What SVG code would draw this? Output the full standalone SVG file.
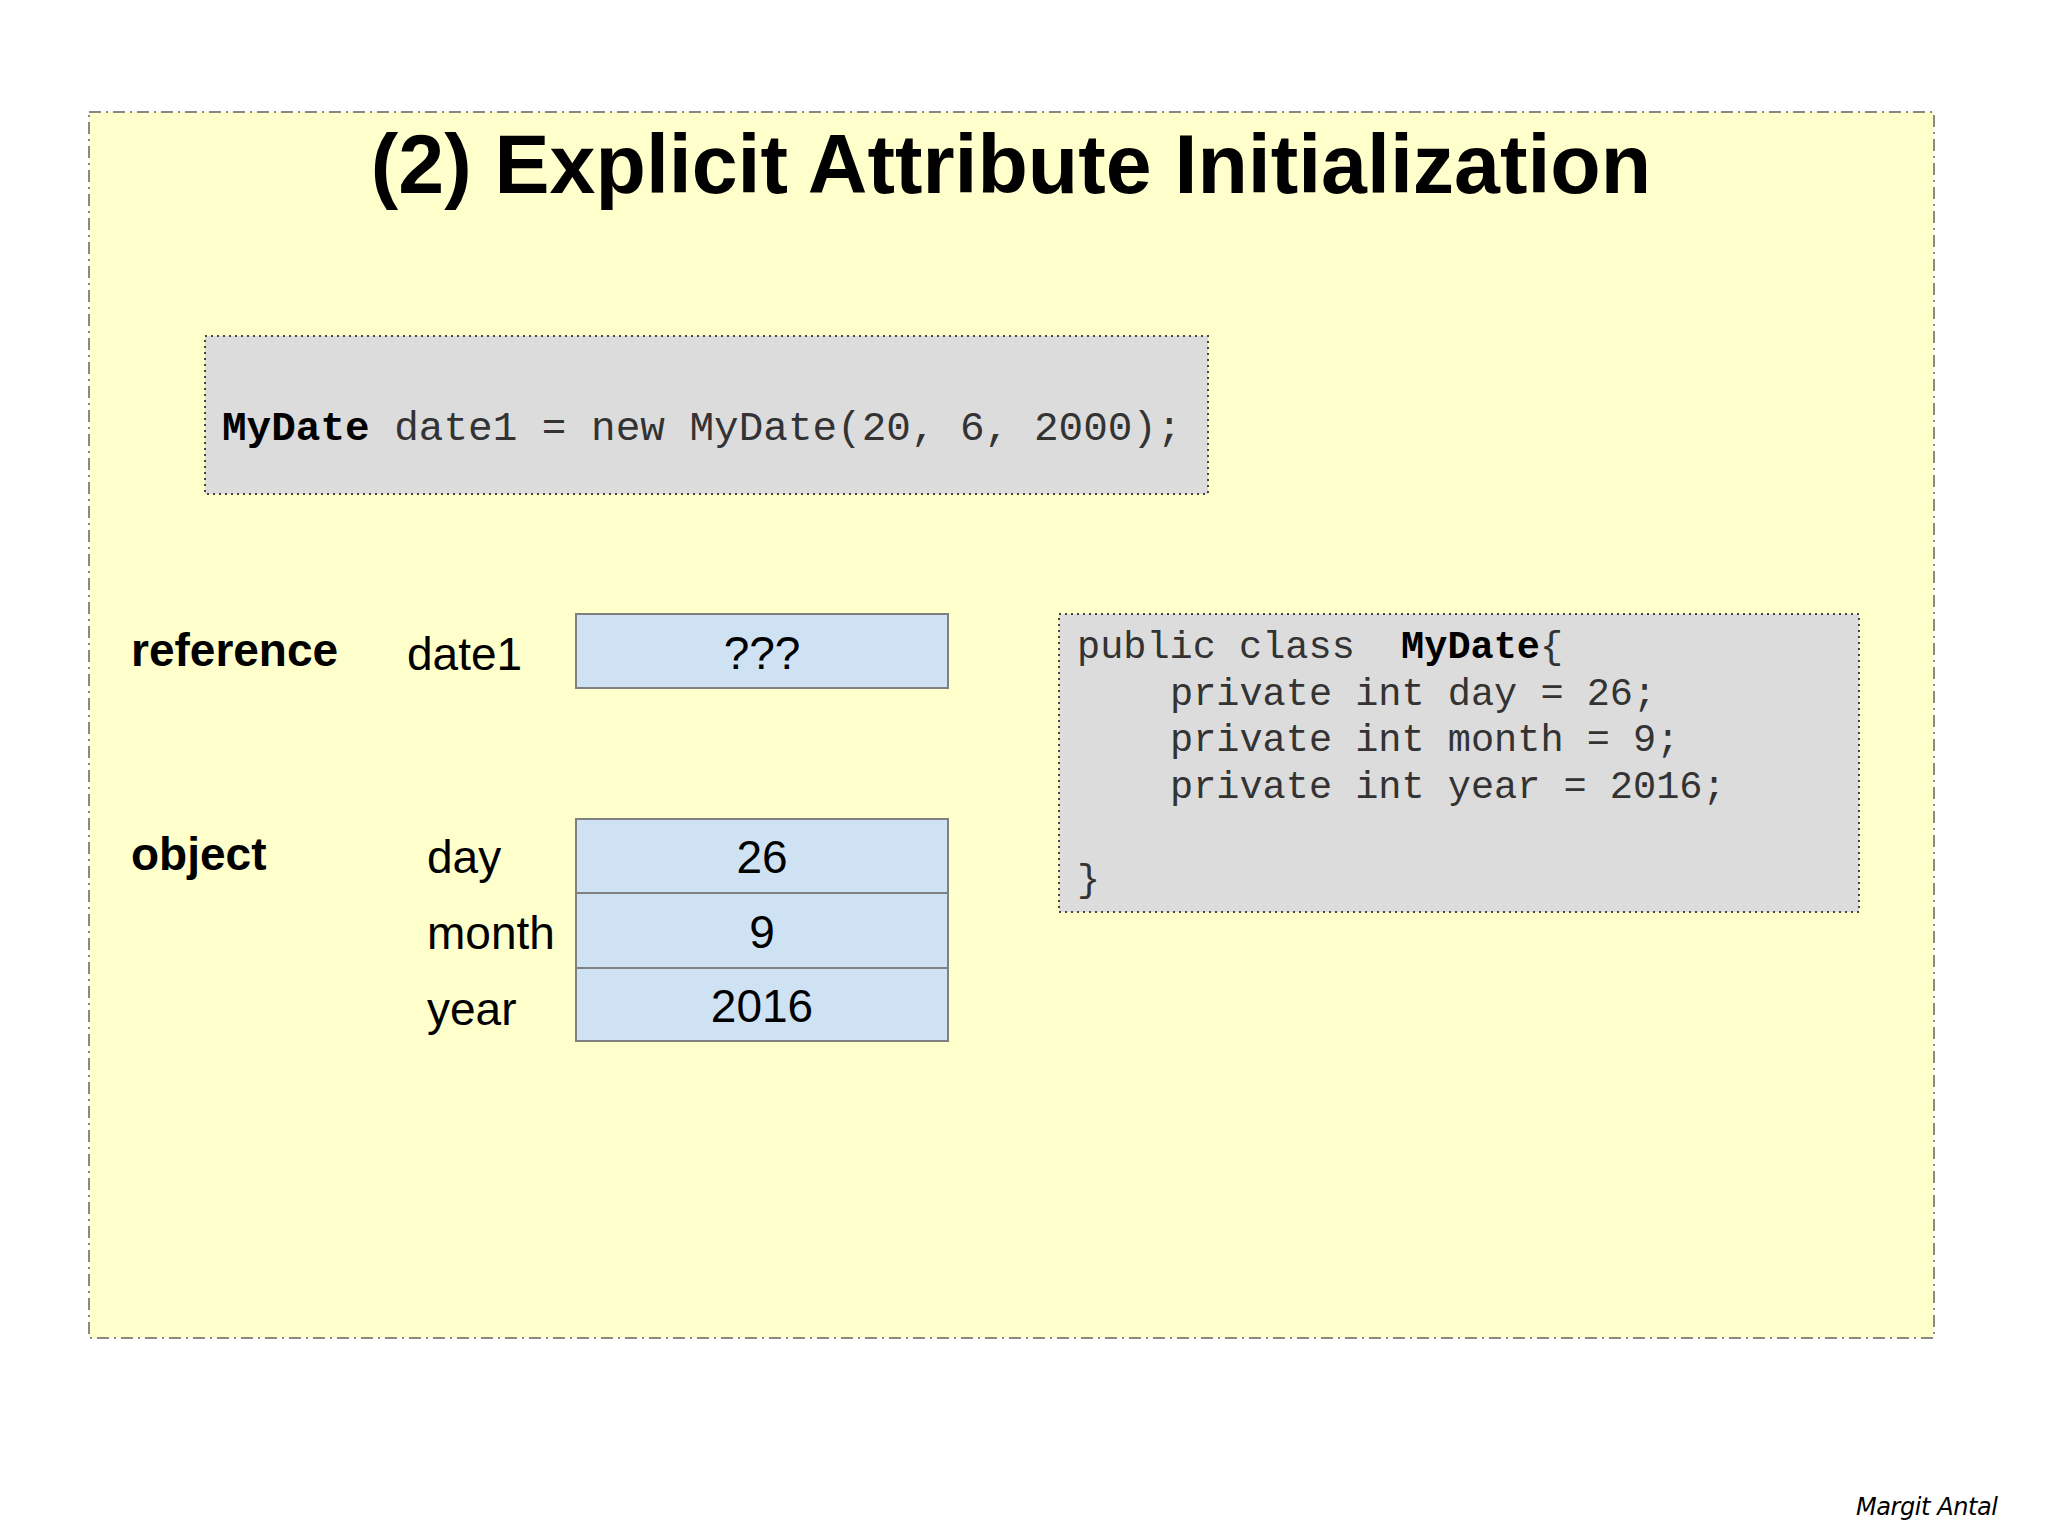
<svg xmlns="http://www.w3.org/2000/svg" width="2048" height="1537" viewBox="0 0 2048 1537">
<style>
.panel{fill:#ffffcc;stroke:#8a8a80;stroke-width:2;stroke-dasharray:12 5 2 5}
.code{fill:#dcdcdc;stroke:#444;stroke-width:2;stroke-dasharray:2 4}
.cell{fill:#cfe2f3;stroke:#808080;stroke-width:2}
.title{font-family:"Liberation Sans",Arial,sans-serif;font-weight:bold;font-size:82.5px;fill:#000}
.lbl{font-family:"Liberation Sans",Arial,sans-serif;font-size:46px;fill:#000}
.b{font-weight:bold}
.mono{font-family:"Liberation Mono","Courier New",monospace;fill:#333}
.kw{font-weight:bold;fill:#000}
.sig{font-family:"DejaVu Sans",sans-serif;font-style:italic;font-size:24px;fill:#000}
</style>
<rect width="2048" height="1537" fill="#ffffff"/>
<g id="panel">
<rect class="panel" x="89" y="112" width="1845" height="1226"/>
<text class="title" x="1011" y="193" text-anchor="middle">(2) Explicit Attribute Initialization</text>
</g>
<g id="statement">
<rect class="code" x="205" y="336" width="1003" height="158"/>
<text class="mono" x="222" y="440" font-size="41"><tspan class="kw">MyDate</tspan>&#160;date1 = new MyDate(20, 6, 2000);</text>
</g>
<g id="reference">
<text class="lbl b" x="131" y="666">reference</text>
<text class="lbl" x="407" y="670">date1</text>
<rect class="cell" x="576" y="614" width="372" height="74"/>
<text class="lbl" x="762" y="669" text-anchor="middle">???</text>
</g>
<g id="object">
<text class="lbl b" x="131" y="870">object</text>
<text class="lbl" x="427" y="873">day</text>
<text class="lbl" x="427" y="949">month</text>
<text class="lbl" x="427" y="1025">year</text>
<rect class="cell" x="576" y="819" width="372" height="74"/>
<rect class="cell" x="576" y="893" width="372" height="75"/>
<rect class="cell" x="576" y="968" width="372" height="73"/>
<text class="lbl" x="762" y="873" text-anchor="middle">26</text>
<text class="lbl" x="762" y="948" text-anchor="middle">9</text>
<text class="lbl" x="762" y="1022" text-anchor="middle">2016</text>
</g>
<g id="class-def">
<rect class="code" x="1059" y="614" width="800" height="298"/>
<g class="mono" font-size="38.6">
<text x="1077" y="658">public class&#160;&#160;<tspan class="kw">MyDate</tspan>{</text>
<text x="1170" y="705">private int day = 26;</text>
<text x="1170" y="751">private int month = 9;</text>
<text x="1170" y="798">private int year = 2016;</text>
<text x="1077" y="891">}</text>
</g>
</g>
<g id="connectors"></g>
<text class="sig" x="1856" y="1515" textLength="142">Margit Antal</text>
</svg>
